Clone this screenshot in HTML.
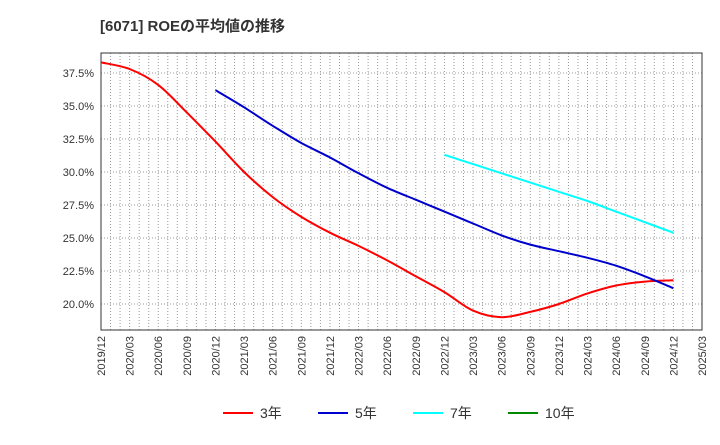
<!DOCTYPE html>
<html><head><meta charset="utf-8"><style>
body{margin:0;background:#fff;font-family:"Liberation Sans","Noto Sans CJK JP",sans-serif;}
</style></head><body>
<svg id="c" width="720" height="440" xmlns="http://www.w3.org/2000/svg">
<text x="100" y="31" font-size="15" font-weight="bold" fill="#333">[6071]  ROEの平均値の推移</text>
<g id="grid"></g><g id="axes"></g><g id="series"></g>
<g id="legend"></g>
</svg>
<script>
const xLabels=["2019/12","2020/03","2020/06","2020/09","2020/12","2021/03","2021/06","2021/09","2021/12","2022/03","2022/06","2022/09","2022/12","2023/03","2023/06","2023/09","2023/12","2024/03","2024/06","2024/09","2024/12","2025/03"];
const yTicks=[20.0,22.5,25.0,27.5,30.0,32.5,35.0,37.5];
const roe3=[38.3,37.8,36.6,34.5,32.3,30.0,28.1,26.6,25.4,24.4,23.3,22.1,20.9,19.5,19.0,19.4,20.0,20.8,21.4,21.7,21.8];
const roe5Start=4;
const roe5=[36.2,34.9,33.5,32.2,31.1,29.9,28.8,27.9,27.0,26.1,25.2,24.5,24.0,23.5,22.9,22.1,21.2];
const roe7Start=12;
const roe7=[31.3,30.6,29.9,29.2,28.5,27.8,27.0,26.2,25.4];
const L=101,R=702,T=53,B=330;
const X=i=>L+(R-L)*i/(xLabels.length-1);
const Y=v=>304-(v-20)*33/2.5;
const ns="http://www.w3.org/2000/svg";
function mk(p,t,a){const e=document.createElementNS(ns,t);for(const k in a)e.setAttribute(k,a[k]);p.appendChild(e);return e;}
const g=document.getElementById('grid'),ax=document.getElementById('axes'),s=document.getElementById('series');
for(let m=1;m<(xLabels.length-1)*3;m++){const x=L+(R-L)*m/((xLabels.length-1)*3);
const l=mk(g,'line',{x1:x,x2:x,y1:T,y2:B,stroke:'#999','stroke-dasharray':'1,2','stroke-width':1});
}
yTicks.forEach(v=>{const y=Y(v);
const l=mk(g,'line',{x1:L,x2:R,y1:y,y2:y,stroke:'#999','stroke-dasharray':'1,2'});

const t=mk(ax,'text',{x:L-7,y:y+4,'text-anchor':'end','font-size':11,fill:'#333'});t.textContent=v.toFixed(1)+'%';
});
xLabels.forEach((lab,i)=>{const x=X(i);
const t=mk(ax,'text',{x:0,y:0,'font-size':11,fill:'#333','text-anchor':'end',transform:`translate(${x+4},${B+6}) rotate(-90)`});t.textContent=lab;
});
const fr=mk(ax,'rect',{x:L,y:T,width:R-L,height:B-T,fill:'none',stroke:'#333'});

function line(arr,start,color,name){const P=arr.map((v,i)=>[X(start+i),Y(v)]);
let d='M'+P[0][0].toFixed(1)+','+P[0][1].toFixed(1);
for(let i=0;i<P.length-1;i++){const p0=P[Math.max(i-1,0)],p1=P[i],p2=P[i+1],p3=P[Math.min(i+2,P.length-1)];
const c1=[p1[0]+(p2[0]-p0[0])/6,p1[1]+(p2[1]-p0[1])/6],c2=[p2[0]-(p3[0]-p1[0])/6,p2[1]-(p3[1]-p1[1])/6];
d+=` C${c1[0].toFixed(1)},${c1[1].toFixed(1)} ${c2[0].toFixed(1)},${c2[1].toFixed(1)} ${p2[0].toFixed(1)},${p2[1].toFixed(1)}`;}
const p=mk(s,'path',{d:d,fill:'none',stroke:color,'stroke-width':2,'stroke-linejoin':'round'});
}
line(roe3,0,'#f00','roe-3y-line');line(roe5,roe5Start,'#00c','roe-5y-line');line(roe7,roe7Start,'#0ff','roe-7y-line');
const lg=document.getElementById('legend');
[['3年','#f00',223],['5年','#00c',318],['7年','#0ff',413],['10年','#080',508]].forEach(([n,c,x])=>{
const l=mk(lg,'line',{x1:x,x2:x+30,y1:413,y2:413,stroke:c,'stroke-width':2});

const t=mk(lg,'text',{x:x+37,y:418,'font-size':14,fill:'#333'});t.textContent=n;
});
</script>
</body></html>
